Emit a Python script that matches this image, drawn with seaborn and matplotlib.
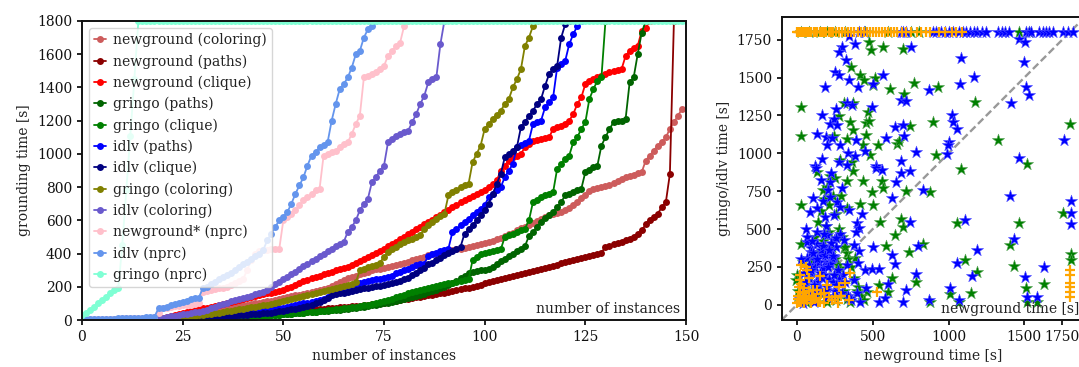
import matplotlib
matplotlib.use("Agg")
import matplotlib.pyplot as plt
import numpy as np
import pandas as pd
import seaborn as sns

# ---------------- data: cactus plot (sorted grounding times per instance) ----------------
newground_coloring = [1,1,2,2,2,3,3,3,4,4, 5,5,6,6,7,8,8,9,10,11, 12,14,16,18,22,26,30,35,40,45,
    50,55,60,63,66,70,73,77,80,84, 88,92,96,100,104,108,112,117,122,128, 133,138,143,148,153,158,163,170,177,183,
    189,195,205,215,228,240,250,258,266,275, 283,291,298,305,310,316,322,328,334,340,
    346,352,360,368,375,382,390,395,400,405, 410,415,420,425,430,435,440,445,450,455,
    462,470,478,486,495,505,515,525,540,552, 562,572,582,595,610,622,630,638,645,652,
    665,675,690,710,735,755,775,790,795,800, 805,815,825,835,850,860,868,875,882,890,
    960,990,1020,1050,1070,1100,1150,1190,1230,1270]
newground_paths = [0,0,1,1,1,1,1,2,2,2, 2,2,3,3,3,3,4,4,4,5, 5,6,6,7,7,8,9,10,11,12,
    13,14,15,16,18,19,20,22,24,26, 28,30,32,34,36,38,40,42,44,46, 48,50,52,54,56,58,60,62,64,66,
    68,70,72,74,76,78,80,82,84,86, 88,91,94,97,100,104,108,112,116,120,
    124,128,132,136,140,144,148,152,156,160, 165,170,175,180,185,190,195,200,205,212,
    220,228,236,242,248,254,260,266,272,278, 284,290,296,302,308,314,320,326,334,342,
    350,356,362,368,374,380,386,392,398,405, 440,448,456,464,472,480,490,500,515,540,
    575,600,620,640,680,710,880,1800]
newground_clique = [0,1,1,1,1,2,2,2,2,3, 3,3,4,4,5,5,6,7,8,10, 14,20,26,32,38,44,50,56,62,66,
    70,74,80,86,92,98,104,110,116,122, 128,134,140,146,152,157,161,165,168,172,
    180,190,200,210,220,232,242,250,258,266, 274,282,290,298,306,314,322,334,346,358,
    370,382,394,406,418,430,444,458,472,486, 500,515,530,545,560,575,590,605,620,635,
    650,665,680,695,710,722,734,746,758,770, 782,800,820,840,900,930,960,980,990,1000,
    1040,1060,1075,1085,1090,1095,1100,1150,1160,1170, 1180,1200,1240,1300,1340,1420,1440,1450,1460,1470,
    1480,1490,1500,1505,1510,1590,1620,1640,1650,1740, 1760,1800]
gringo_paths = [0,0,0,0,0,1,1,1,1,1, 1,1,1,2,2,2,2,2,3,3, 3,3,4,4,4,5,5,6,6,7,
    8,9,10,11,12,13,14,15,16,17, 18,19,20,21,22,24,26,28,30,32, 34,36,38,40,42,44,46,48,50,52,
    54,56,58,60,63,66,69,72,75,78, 81,84,88,92,96,100,105,110,115,120,
    126,132,138,144,150,158,166,174,182,190, 200,210,220,235,250,265,280,286,292,298,
    304,310,318,340,355,370,385,400,415,430, 445,505,530,560,590,615,630,650,680,710,
    750,760,770,780,790,890,905,920,930,1050, 1100,1150,1190,1195,1200,1210,1430,1460,1600,1730,
    1800]
gringo_clique = [0,0,0,0,0,0,1,1,1,1, 1,1,1,1,2,2,2,2,2,3, 3,3,3,4,4,4,5,5,6,6,
    7,8,9,10,11,12,13,14,15,16, 17,18,19,20,22,24,26,28,30,32, 34,36,38,40,42,44,46,48,50,53,
    56,59,62,65,68,71,74,77,80,84, 88,92,96,102,108,114,120,128,136,144,
    152,160,168,176,182,188,194,200,205,210, 215,220,225,230,235,240,245,360,380,395,
    405,410,415,420,425,500,510,520,530,540, 550,600,710,725,740,750,760,770,910,940,
    970,990,1070,1100,1150,1190,1330,1390,1440,1460, 1800]
idlv_paths = [0,0,0,0,1,1,1,1,1,2, 2,2,2,3,3,3,4,4,5,5, 6,7,8,9,10,12,14,16,18,20,
    22,24,26,28,30,33,36,39,42,45, 48,51,54,57,60,62,64,66,68,70, 75,80,85,90,95,100,105,110,115,120,
    125,140,165,172,180,188,196,204,212,220, 226,232,238,244,248,252,258,265,280,290,
    300,310,320,330,335,340,385,395,405,415, 422,430,530,545,570,590,610,630,650,670,
    690,740,760,780,800,860,900,940,1040,1055, 1065,1080,1180,1190,1200,1280,1310,1340,1520,1540,
    1560,1660,1720,1770,1800]
idlv_clique = [0,0,0,0,0,1,1,1,1,1, 1,2,2,2,2,3,3,3,4,4, 5,5,6,7,8,9,10,11,12,13,
    14,15,16,17,18,20,22,24,26,28, 30,32,34,36,38,40,42,45,48,52, 56,60,64,68,72,78,84,90,100,110,
    120,135,150,155,160,165,170,175,180,185, 190,194,198,202,206,212,218,224,230,236,
    245,255,270,285,300,315,335,345,360,375, 390,405,415,425,440,520,545,570,600,630,
    660,700,760,820,880,980,1000,1020,1040,1160, 1190,1230,1260,1300,1330,1410,1480,1510,1530,1700,
    1780,1800]
gringo_coloring = [0,0,0,1,1,1,1,1,2,2, 2,2,3,3,3,4,4,5,5,6, 7,8,10,12,15,18,21,24,27,30,
    33,36,39,42,45,48,52,56,60,64, 68,72,76,80,84,88,92,96,100,106, 112,118,124,130,136,142,148,154,160,166,
    172,178,184,190,196,202,210,218,226,300, 310,318,326,334,345,380,410,430,440,455,
    470,480,490,500,510,550,570,590,610,625, 640,750,770,785,800,810,820,950,1000,1050,
    1150,1180,1210,1235,1260,1300,1330,1400,1450,1510, 1650,1700,1770,1800]
idlv_coloring = [0,0,1,1,1,1,2,2,2,3, 3,3,4,4,5,5,6,7,8,10, 14,18,22,26,30,34,38,42,46,50,
    55,62,70,80,88,96,104,112,118,124, 130,138,146,154,162,170,180,200,215,230,
    245,260,275,290,310,325,340,355,370,385, 400,415,430,445,460,470,530,560,600,660,
    700,730,830,860,900,930,1070,1090,1110,1120, 1130,1140,1190,1240,1300,1350,1430,1450,1460,1660,
    1800]
newground_nprc = [2,3,4,5,5,6,7,8,8,9, 10,10,11,12,12,13,14,15,16,40, 70,75,80,82,85,88,90,92,95,100,
    170,175,180,185,190,195,200,210,220,235, 245,300,360,400,415,420,422,425,428,430,
    600,620,640,660,690,720,740,760,780,790, 990,1000,1010,1020,1040,1060,1070,1120,1180,1230,
    1460,1470,1480,1495,1510,1530,1590,1620,1650,1670, 1770,1800]
idlv_nprc = [3,4,5,5,6,7,7,8,9,10, 10,11,12,13,14,15,16,18,20,70, 75,80,90,95,100,110,115,125,130,135,
    190,200,215,230,245,260,270,285,300,320, 335,350,370,385,400,420,480,520,560,600,
    620,650,700,760,810,860,930,990,1010,1040, 1055,1070,1200,1300,1390,1420,1460,1520,1600,1620,
    1700,1750,1770,1800]
gringo_nprc = [30,45,60,80,100,120,140,160,180,190, 450,780,1110,1450] + [1800] * 137

series_names = ["newground (coloring)", "newground (paths)", "newground (clique)",
                "gringo (paths)", "gringo (clique)", "idlv (paths)", "idlv (clique)",
                "gringo (coloring)", "idlv (coloring)", "newground* (nprc)", "idlv (nprc)",
                "gringo (nprc)"]
series_values = [newground_coloring, newground_paths, newground_clique, gringo_paths,
                 gringo_clique, idlv_paths, idlv_clique, gringo_coloring, idlv_coloring,
                 newground_nprc, idlv_nprc, gringo_nprc]
series_colors = ["indianred", "darkred", "red", "darkgreen", "green", "blue", "navy",
                 "olive", "slateblue", "pink", "cornflowerblue", "aquamarine"]

# ---------------- data: scatter (newground time vs gringo / idlv time) ----------------
gringo_x = [473,486,568,700,354,418,440,513,502,770,612,931,704,1173,26,308,370,466,275,350,
            453,473,748,898,26,370,242,330,458,532,658,675,436,1324,1804,915,480,286,363,1518,
            367,436,561,565,495,722,876,1080,26,418,499,330,1756,686,700,1056,1465,550,649,1404,
            832,739,590,26,308,330,385,1107,1430,1188,788,629,539,1628,1514,1008,1148,598,1518,1584,
            876,1067,1808,1808,286,253,396,462,0,-4,
            50,80,100,120,140,160,180,200,220,240,260,280,300,320,340,360,380,400,420,440,
            30,60,90,150,170,190,210,230,250,270,290,310,330,350,130,170,210,250,290,330,
            150,200,120,60,20,10,40,260,
            30,80,150,200,250,320,450,600,752,807,1467,1530]
gringo_y = [1736,1679,1705,1688,1571,1514,1483,1496,1450,1465,1428,1435,1395,1338,1307,1333,1333,1270,1245,1210,
            1201,1212,1182,1206,1116,1157,1116,1098,1124,1052,1065,1083,1054,1091,1193,990,992,955,940,933,
            884,818,818,774,744,752,748,898,660,664,656,642,609,568,517,543,543,550,462,392,
            403,352,389,403,374,341,308,293,257,220,154,176,128,136,110,70,81,88,22,22,
            22,18,334,297,242,198,92,88,198,165,
            100,200,300,450,550,620,700,780,850,720,600,500,450,380,300,250,180,120,60,30,
            50,150,260,350,420,520,480,380,300,260,150,90,40,20,880,760,660,840,720,820,
            80,20,30,20,20,90,280,30,
            1800,1800,1800,1800,1800,1800,1800,1800,1800,1800,1800,1800]

idlv_x = [341,385,297,275,752,326,1080,1465,1507,1500,253,279,345,565,499,183,400,873,1074,1166,
          1514,1531,689,719,1415,330,363,255,493,167,242,216,264,1023,1030,1056,649,697,132,194,
          231,704,202,286,590,1003,997,392,1764,783,447,334,383,990,169,275,684,1465,121,330,521,
          123,227,521,561,689,744,158,220,653,829,205,297,106,172,216,264,286,136,627,
          1408,1808,1808,1808,84,183,242,341,429,396,407,392,744,1107,132,198,242,282,308,66,
          92,176,220,374,407,499,629,796,645,1188,1432,66,121,187,242,330,400,451,495,543,
          1056,1155,1628,788,304,374,598,458,722,396,1012,1507,1584,1518,869,1067,539,579,700,418,352,
          20,40,60,80,100,120,140,160,180,200,220,240,260,280,30,50,70,90,110,130,
          150,170,190,210,230,250,270,290,40,60,80,100,120,140,160,180,200,220,240,260,
          25,45,65,85,105,125,145,165,185,205,225,245,55,75,95,115,135,155,175,195,
          215,235,255,300,320,340,360,
          410,440,686,700,720,895,920,950,980,1000,1027,1071,1093,1115,1140,1165,1190,1220,1247,1324,
          1350,1375,1401,1511,1530,1544,1599,1620,1640,1665,1687,1753,1790,1819]
idlv_y = [1773,1721,1703,1666,1703,1615,1628,1758,1732,1602,1534,1520,1487,1516,1461,1437,1435,1421,1461,1503,
          1441,1388,1351,1344,1333,1333,1320,1292,1303,1254,1230,1193,1184,1252,1208,1160,1175,1190,1127,1109,
          1102,1116,1058,1058,1102,1072,1054,1091,1087,1012,1014,1003,981,995,966,940,948,968,915,922,915,
          906,869,906,891,869,884,825,814,814,759,759,770,704,686,715,682,649,638,704,
          719,686,609,532,616,583,594,623,601,539,506,484,546,561,484,462,429,466,429,418,
          374,385,363,396,356,385,330,389,271,363,436,308,297,286,319,264,275,231,235,235,
          279,191,253,205,198,165,139,110,95,77,110,183,55,55,29,29,22,44,22,22,44,
          40,120,60,180,90,250,150,330,200,120,280,60,380,170,300,210,450,350,20,400,
          100,240,520,170,310,90,230,140,10,500,260,420,80,190,360,470,50,270,150,440,
          30,140,70,220,340,110,280,180,330,250,410,200,160,60,230,130,300,210,390,100,
          360,320,130,80,150,60,30,
          1800,1800,1800,1800,1800,1800,1800,1800,1800,1800,1800,1800,1800,1800,1800,1800,1800,1800,1800,1800,
          1800,1800,1800,1800,1800,1800,1800,1800,1800,1800,1800,1800,1800,1800]

nprc_x = [66,352,528,275,319,198,176,231,341,154,22,77,22,106,55,99,11,209,
          0,5,10,15,20,25,30,40,45,50,60,70,80,90,100,120,130,140,160,180,250,270,290,150,60,30,
          1800,1800,1800,1800,1800,1800,
          0,5,12,20,28,35,45,55,65,75,85,95,110,120,135,150,165,180,195,210,225,240,260,280,300,
          320,340,360,380,400,420,440,460,480,500,520,540,560,580,600,620,640,660,690,720,750,790,
          820,850,880,940,980,1020,1050,1090]
nprc_y = [231,209,88,121,143,132,77,33,33,22,165,176,88,99,44,33,22,55,
          10,40,60,120,200,140,20,80,10,110,60,30,90,15,60,45,100,20,70,10,50,15,60,190,250,260,
          55,88,121,143,198,231,
          1800,1800,1800,1800,1800,1800,1800,1800,1800,1800,1800,1800,1800,1800,1800,1800,1800,1800,1800,1800,
          1800,1800,1800,1800,1800,1800,1800,1800,1800,1800,1800,1800,1800,1800,1800,1800,1800,1800,1800,1800,
          1800,1800,1800,1800,1800,1800,1800,1800,1800,1800,1800,1800,1800,1800,1800]

left_xticks = [0, 25, 50, 75, 100, 125, 150]
left_yticks = [0, 200, 400, 600, 800, 1000, 1200, 1400, 1600, 1800]
right_xticks = [0, 500, 1000, 1500, 1750]
right_yticks = [0, 250, 500, 750, 1000, 1250, 1500, 1750]

# ---------------- style ----------------
sns.set_theme(style="ticks")
plt.rcParams['font.family'] = ['DejaVu Serif']
plt.rcParams.update({
    "font.size": 10, "axes.labelsize": 10, "xtick.labelsize": 10, "ytick.labelsize": 10,
    "legend.fontsize": 10, "axes.linewidth": 1.4, "xtick.major.width": 1.3,
    "ytick.major.width": 1.3, "xtick.major.size": 3.5, "ytick.major.size": 3.5,
    "axes.edgecolor": "#111111", "xtick.color": "#111111", "ytick.color": "#111111",
    "text.color": "#222222", "axes.labelcolor": "#222222",
})

W, H = 1079, 367
fig = plt.figure(figsize=(W / 100, H / 100), dpi=100)
ax1 = fig.add_axes([82 / W, 47 / H, 604 / W, 299 / H])
ax2 = fig.add_axes([781.7 / W, 47 / H, 303.3 / W, 303 / H])

# ---------------- left: cactus plot ----------------
for name, vals, col in zip(series_names, series_values, series_colors):
    df = pd.DataFrame({"n": np.arange(len(vals)), "t": vals})
    sns.lineplot(data=df, x="n", y="t", ax=ax1, color=col, marker="o", markersize=5,
                 markeredgewidth=0, linewidth=1.3, label=name, sort=False, estimator=None)

ax1.set_xlim(0, 150)
ax1.set_ylim(0, 1800)
ax1.set_xticks(left_xticks)
ax1.set_yticks(left_yticks)
ax1.set_xlabel("number of instances")
ax1.set_ylabel("grounding time [s]")
ax1.annotate("number of instances", xy=(1, 0), xycoords="axes fraction", xytext=(-4, 3),
             textcoords="offset points", ha="right", va="bottom", fontsize=10)
leg = ax1.legend(loc="upper left", handlelength=0.9, handletextpad=0.5, labelspacing=0.5,
                 borderpad=0.35, framealpha=0.8, fancybox=True)

# ---------------- right: scatter ----------------
ax2.plot([-100, 1900], [-100, 1900], ls=(0, (3.2, 1.5)), color="#999999", lw=1.7, zorder=1)
sns.scatterplot(x=gringo_x, y=gringo_y, ax=ax2, marker="*", s=85, color="green",
                edgecolor="#5aa55a", linewidth=0.4, zorder=2)
sns.scatterplot(x=idlv_x, y=idlv_y, ax=ax2, marker="*", s=85, color="blue",
                edgecolor="#5555ff", linewidth=0.4, zorder=3)
sns.scatterplot(x=nprc_x, y=nprc_y, ax=ax2, marker="+", s=60, color="orange",
                linewidth=1.6, zorder=4)
ax2.set_xlim(-100, 1900)
ax2.set_ylim(-100, 1900)
ax2.set_xticks(right_xticks)
ax2.set_yticks(right_yticks)
ax2.set_xlabel("newground time [s]")
ax2.set_ylabel("gringo/idlv time [s]")
ax2.annotate("newground time [s]", xy=(1, 0), xycoords="axes fraction", xytext=(-4, 3),
             textcoords="offset points", ha="right", va="bottom", fontsize=10)

fig.savefig("out.png", dpi=100)
